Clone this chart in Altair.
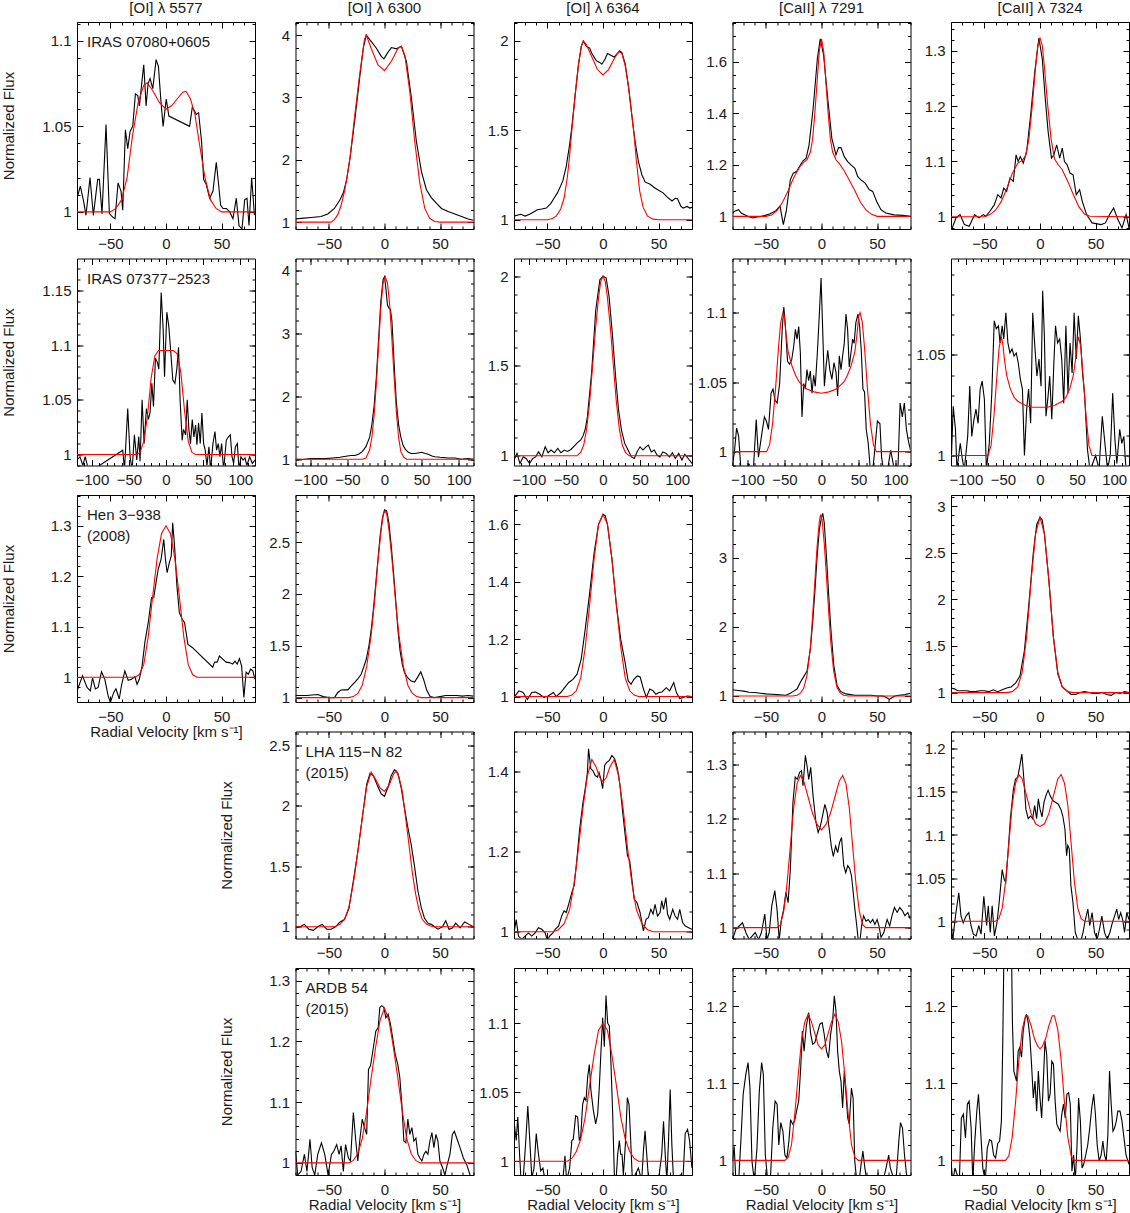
import math
import altair as alt
import pandas as pd

FONT = "Liberation Sans"
TXT = "#1a1a1a"
RED = "#ff0000"
W, H = 178, 207
MAJ, MIN = 6, 3

COL_TITLES = ["[OI] λ 5577", "[OI] λ 6300", "[OI] λ 6364", "[CaII] λ 7291", "[CaII] λ 7324"]
YTITLE = "Normalized Flux"
XTITLE = "Radial Velocity [km s⁻¹]"

# ---------------- Row 1 : IRAS 07080+0605 ----------------
R1C1_OBS = [(-80, 1.008), (-77, 1.015), (-74, 1.006), (-71.9, 0.998), (-68.3, 1.020), (-65.3, 0.998), (-61.4, 1.019),
            (-59.9, 1.019), (-57.5, 0.999), (-53.9, 1.051), (-50.9, 0.999), (-47.9, 0.997), (-45.8, 0.996), (-43.1, 1.017),
            (-40.4, 1.012), (-38.9, 1.001), (-36.5, 1.048), (-34.4, 1.037), (-32.3, 1.047), (-29.9, 1.050), (-27.5, 1.069),
            (-25.4, 1.068), (-23.9, 1.062), (-21.5, 1.077), (-20, 1.086), (-17.9, 1.062), (-16.1, 1.075), (-14.3, 1.078),
            (-11.9, 1.072), (-8.9, 1.089), (-6.8, 1.085), (-4.7, 1.066), (-2.6, 1.050), (0.2, 1.066), (2.6, 1.056),
            (21.2, 1.050), (23.6, 1.061), (25.7, 1.059), (27.2, 1.057), (29.3, 1.058), (32, 1.041), (33.8, 1.019),
            (36.2, 1.016), (39.2, 1.008), (42.2, 1.012), (45.2, 1.029), (47.3, 1.016), (49.1, 1.004), (51.2, 1.002),
            (54.2, 1.002), (57.2, 1.000), (60.2, 0.996), (63.2, 1.008), (65.6, 0.992), (68.3, 0.990), (70.7, 1.007),
            (72.8, 1.008), (74.6, 0.992), (77, 1.020), (79.5, 0.998)]
R1C1_FIT = [(-80, 1.0), (-50, 1.0), (-45, 1.002), (-40, 1.007), (-35, 1.02), (-30, 1.045), (-25, 1.064), (-20, 1.074),
            (-17, 1.0755), (-12, 1.071), (-6, 1.064), (0, 1.06), (5, 1.062), (10, 1.066), (15, 1.07), (18, 1.0705),
            (22, 1.066), (26, 1.057), (30, 1.04), (35, 1.02), (40, 1.007), (45, 1.002), (50, 1.0), (80, 1.0)]

R1C2_OBS = [(-80, 1.053), (-75, 1.06), (-66, 1.075), (-57, 1.09), (-51, 1.13), (-45, 1.22), (-40, 1.36), (-37, 1.47),
            (-34, 1.68), (-31, 2.03), (-28, 2.45), (-25, 2.9), (-22, 3.36), (-19, 3.8), (-16.4, 4.0), (-12, 3.9),
            (-7.3, 3.79), (-2.9, 3.66), (-0.5, 3.62), (2.6, 3.71), (6.2, 3.8), (10.7, 3.78), (15.2, 3.82), (19.7, 3.58),
            (24.2, 2.99), (28.7, 2.29), (33.2, 1.81), (37.7, 1.52), (42.2, 1.39), (46.8, 1.3), (51.2, 1.22),
            (57.2, 1.17), (63.2, 1.13), (69.2, 1.09), (75.2, 1.05), (80, 1.03)]
R1C2_FIT = [(-80, 1.0), (-48, 1.0), (-45, 1.04), (-42, 1.12), (-39, 1.27), (-36, 1.49), (-33.5, 1.75), (-31, 2.03),
            (-27, 2.67), (-22.4, 3.36), (-18, 3.93), (-16.4, 4.0), (-12, 3.79), (-5.9, 3.52), (0, 3.43), (6.2, 3.58),
            (12.2, 3.79), (15.2, 3.82), (18.2, 3.68), (22.7, 3.1), (27.2, 2.29), (31.7, 1.63), (36.2, 1.22),
            (40.7, 1.06), (45, 1.01), (50, 1.0), (80, 1.0)]

R1C3_OBS = [(-80, 1.02), (-74, 1.03), (-70, 1.02), (-66, 1.03), (-62, 1.045), (-59, 1.056), (-55, 1.06), (-51, 1.065),
            (-47, 1.09), (-44, 1.12), (-41, 1.15), (-38, 1.19), (-36, 1.22), (-33, 1.3), (-30, 1.42), (-28, 1.52),
            (-25, 1.7), (-22, 1.87), (-19.5, 1.97), (-17.7, 2.0), (-15, 1.97), (-12, 1.96), (-10, 1.93), (-6, 1.89),
            (-3, 1.88), (-1, 1.87), (2, 1.9), (4, 1.93), (7, 1.92), (10, 1.91), (13, 1.93), (15, 1.945), (17, 1.935),
            (20, 1.87), (23, 1.74), (26, 1.58), (29, 1.43), (32, 1.32), (35, 1.25), (38, 1.21), (42, 1.2), (46, 1.18),
            (50, 1.165), (54, 1.15), (57, 1.13), (62, 1.105), (65, 1.12), (67, 1.117), (70, 1.075), (72, 1.065),
            (75.6, 1.074), (78, 1.065), (80, 1.069)]
R1C3_FIT = [(-80, 1.0), (-50, 1.0), (-46, 1.005), (-42, 1.02), (-38, 1.06), (-35, 1.12), (-32, 1.24), (-30, 1.36),
            (-28, 1.5), (-25, 1.7), (-22, 1.87), (-19.5, 1.97), (-17.7, 2.0), (-15, 1.98), (-10, 1.91), (-5, 1.84),
            (0, 1.81), (5, 1.84), (10, 1.9), (13, 1.93), (15, 1.94), (17, 1.93), (20, 1.86), (23, 1.74), (26, 1.58),
            (28, 1.47), (30, 1.33), (33, 1.16), (36, 1.07), (40, 1.02), (45, 1.003), (50, 1.0), (80, 1.0)]

R1C4_OBS = [(-80, 1.013), (-78, 1.02), (-74.6, 1.026), (-72, 1.012), (-69, 1.006), (-66, 1.0), (-61.6, 0.994),
            (-58, 0.998), (-54, 1.0), (-50, 1.005), (-46.6, 1.009), (-41, 1.022), (-37.3, 1.04), (-34.3, 0.968),
            (-31.7, 1.02), (-28, 1.142), (-25.4, 1.168), (-22.4, 1.174), (-19.8, 1.194), (-16.8, 1.215),
            (-13.8, 1.226), (-11.2, 1.277), (-7.5, 1.42), (-3.7, 1.613), (-1.1, 1.69), (1.9, 1.626), (5.6, 1.458),
            (9.3, 1.303), (13, 1.239), (15.3, 1.267), (17.5, 1.267), (20.5, 1.232), (23.5, 1.213), (26.5, 1.2),
            (30, 1.187), (32.5, 1.155), (35.4, 1.142), (39.2, 1.129), (43, 1.103), (46, 1.097), (49.6, 1.058),
            (53.4, 1.026), (57.8, 1.013), (65.3, 1.006), (72.8, 1.004), (80, 1.0)]
R1C4_FIT = [(-80, 1.0), (-50, 1.0), (-45, 1.005), (-40, 1.022), (-35, 1.055), (-30, 1.1), (-25, 1.15), (-20, 1.19),
            (-16, 1.21), (-13, 1.22), (-10, 1.25), (-8, 1.3), (-6, 1.4), (-4, 1.52), (-2, 1.64), (0, 1.69), (2, 1.64),
            (4, 1.52), (6, 1.4), (8, 1.3), (10, 1.25), (13, 1.22), (16, 1.205), (20, 1.18), (25, 1.14), (30, 1.1),
            (35, 1.055), (40, 1.025), (45, 1.008), (50, 1.0), (80, 1.0)]

R1C5_OBS = [(-80, 0.974), (-75.5, 0.998), (-71.8, 1.004), (-68, 0.986), (-63.6, 0.983), (-58.8, 1.004), (-55, 0.998),
            (-51, 1.004), (-48.7, 1.001), (-45, 1.01), (-41, 1.022), (-38, 1.04), (-35, 1.034), (-32.6, 1.052),
            (-30, 1.046), (-27, 1.07), (-24, 1.064), (-21.5, 1.112), (-19.6, 1.1), (-17.7, 1.109), (-15, 1.097),
            (-12, 1.118), (-8.4, 1.184), (-4.7, 1.262), (-1, 1.323), (2, 1.286), (4.7, 1.214), (7.3, 1.154),
            (10.3, 1.106), (12.5, 1.112), (15, 1.13), (17.7, 1.106), (20, 1.124), (22, 1.1), (24.4, 1.094),
            (27, 1.079), (29.7, 1.076), (32.6, 1.04), (35.6, 1.049), (38, 1.028), (41.9, 1.004), (46.8, 0.989),
            (55, 0.986), (58.8, 0.989), (62.5, 1.004), (66.2, 1.016), (70, 0.995), (73.7, 0.98), (77.4, 1.004),
            (80, 0.98)]
R1C5_FIT = [(-80, 1.0), (-50, 1.0), (-45, 1.004), (-40, 1.012), (-35, 1.027), (-30, 1.05), (-25, 1.078), (-20, 1.097),
            (-16, 1.102), (-13, 1.11), (-10, 1.14), (-7, 1.2), (-4, 1.27), (-2, 1.31), (0, 1.323), (2, 1.31),
            (4, 1.27), (7, 1.2), (10, 1.14), (13, 1.105), (16, 1.095), (20, 1.085), (25, 1.064), (30, 1.04),
            (35, 1.018), (40, 1.005), (45, 1.001), (80, 1.0)]

# ---------------- Row 2 : IRAS 07377-2523 ----------------
R2C1_OBS = [(-120, 0.995), (-116, 0.998), (-112, 0.99), (-109, 0.998), (-105.6, 0.989), (-102.5, 0.986), (-92, 0.989),
            (-58.3, 1.004), (-56, 0.986), (-51.6, 1.042), (-48.4, 0.998), (-45.7, 0.986), (-42.6, 1.018),
            (-39.4, 0.995), (-36.7, 1.0165), (-35, 0.994), (-32.2, 1.05), (-29.5, 1.01), (-26.4, 1.042),
            (-23.6, 1.032), (-21.4, 1.039), (-19.1, 1.065), (-16.9, 1.044), (-14.2, 1.088), (-11.5, 1.084),
            (-9.7, 1.078), (-6.5, 1.148), (-3.8, 1.114), (-2, 1.071), (1.1, 1.13), (3.8, 1.117), (6.5, 1.093),
            (9.2, 1.068), (12, 1.065), (14.6, 1.078), (16.9, 1.098), (19, 1.05), (21.8, 1.013), (23.6, 1.023),
            (26.4, 1.018), (28.6, 1.05), (30.9, 1.023), (33, 1.01), (35.4, 1.032), (37.6, 1.016), (39.9, 1.027),
            (41.7, 1.009), (43.9, 1.029), (46.2, 1.01), (48.4, 1.038), (50.7, 1.01), (52.9, 1.004), (55.2, 0.99),
            (57.9, 1.007), (60.1, 0.986), (63.3, 1.01), (66, 1.021), (68.2, 1.004), (70.5, 1.01), (72.7, 0.998),
            (75, 1.01), (77.7, 0.986), (81.3, 1.013), (84, 1.016), (86.7, 1.018), (89, 0.998), (91.2, 0.992),
            (93.5, 1.007), (96.2, 1.01), (98.4, 0.986), (101, 0.998), (103.8, 0.995), (106.5, 0.997), (109, 0.99),
            (112.8, 0.998), (116.4, 0.992), (120, 0.995)]
R2C1_FIT = [(-120, 1.0), (-40, 1.0), (-35, 1.002), (-30, 1.012), (-25, 1.035), (-20, 1.07), (-15, 1.09), (-10, 1.095),
            (0, 1.095), (10, 1.095), (15, 1.092), (20, 1.075), (25, 1.04), (30, 1.012), (35, 1.002), (40, 1.0),
            (120, 1.0)]

R2C2_OBS = [(-120, 1.0), (-110, 0.995), (-100, 1.01), (-90, 1.01), (-80, 1.01), (-70, 1.02), (-60, 1.03), (-50, 1.05),
            (-45, 1.06), (-40, 1.06), (-35, 1.08), (-30, 1.12), (-25, 1.2), (-20, 1.35), (-17, 1.55), (-14, 1.85),
            (-11, 2.3), (-8, 2.9), (-5, 3.5), (-2, 3.85), (0, 3.9), (2, 3.7), (4, 3.45), (6, 3.4), (8, 3.38),
            (10, 3.2), (12, 2.75), (14, 2.3), (16, 1.9), (19, 1.55), (22, 1.35), (25, 1.22), (28, 1.16), (32, 1.11),
            (36, 1.09), (41, 1.09), (45, 1.1), (50, 1.11), (55, 1.09), (59, 1.08), (64, 1.05), (68, 1.04), (75, 1.03),
            (86, 1.02), (95, 1.02), (104, 1.0), (112, 1.01), (120, 1.0)]
R2C2_FIT = [(-120, 1.0), (-30, 1.0), (-25, 1.02), (-20, 1.15), (-17, 1.35), (-14, 1.7), (-11, 2.2), (-8, 2.8),
            (-5, 3.4), (-2, 3.8), (1, 3.9), (4, 3.8), (7, 3.45), (10, 2.9), (13, 2.3), (16, 1.75), (19, 1.35),
            (22, 1.12), (26, 1.03), (30, 1.0), (120, 1.0)]

R2C3_OBS = [(-120, 0.976), (-116, 1.013), (-112, 0.957), (-107.5, 0.994), (-103.6, 0.985), (-99, 0.957),
            (-94.7, 0.985), (-90.8, 0.994), (-86.9, 1.022), (-82.4, 0.994), (-77.9, 1.05), (-74, 1.017), (-70, 1.032),
            (-65.6, 1.017), (-61, 1.041), (-56.7, 1.017), (-52.2, 1.032), (-47.8, 1.024), (-43.3, 1.035),
            (-38.8, 1.054), (-34.4, 1.073), (-29.9, 1.088), (-26.5, 1.115), (-23.7, 1.153), (-21, 1.218),
            (-15.4, 1.46), (-9.8, 1.81), (-4.2, 1.98), (0, 2.0), (4.2, 1.99), (8.1, 1.89), (12.6, 1.68), (17, 1.44),
            (21, 1.255), (24.9, 1.143), (29.3, 1.069), (33.8, 1.032), (38.3, 0.994), (42.2, 0.985), (46, 1.022),
            (50, 1.05), (53.9, 1.032), (57.3, 1.047), (61.2, 1.06), (65.1, 1.022), (69, 1.032), (72.9, 1.004),
            (76.8, 0.994), (80.7, 1.022), (85.2, 1.013), (89.6, 0.994), (93.6, 1.017), (97.5, 0.985), (102, 1.013),
            (106.4, 0.976), (110.3, 1.009), (114.8, 0.985), (120, 0.957)]
R2C3_FIT = [(-120, 1.0), (-35, 1.0), (-30, 1.02), (-26, 1.06), (-22, 1.15), (-18, 1.3), (-14, 1.5), (-10, 1.71),
            (-6, 1.88), (-3, 1.97), (0, 2.0), (3, 1.97), (6, 1.88), (10, 1.71), (14, 1.5), (18, 1.3), (22, 1.15),
            (26, 1.06), (30, 1.02), (35, 1.0), (120, 1.0)]

R2C4_OBS = [(-120, 0.99), (-117.2, 1.001), (-114.5, 1.017), (-111.7, 1.011), (-109, 0.99), (-103, 0.986),
            (-97.8, 0.991), (-92, 0.986), (-88, 1.023), (-85, 0.996), (-81, 1.011), (-77, 1.025), (-74.3, 1.022),
            (-71.5, 1.016), (-68, 1.042), (-65.4, 1.045), (-62.6, 1.037), (-59.8, 1.035), (-56.4, 1.049), (-53, 1.088),
            (-50.8, 1.104), (-48.6, 1.09), (-45.8, 1.065), (-43, 1.063), (-40.2, 1.066), (-37.4, 1.076),
            (-35.2, 1.088), (-33, 1.081), (-30.7, 1.09), (-28.5, 1.071), (-26.3, 1.025), (-24, 1.049), (-21.8, 1.045),
            (-19.6, 1.059), (-17.3, 1.051), (-15.1, 1.058), (-12.8, 1.042), (-10.6, 1.055), (-8.4, 1.047),
            (-5.6, 1.071), (-2.8, 1.1), (-0.6, 1.125), (1.7, 1.086), (3.9, 1.047), (6.1, 1.061), (8.4, 1.073),
            (11.2, 1.059), (14, 1.052), (16.8, 1.064), (19.6, 1.057), (21.8, 1.04), (24, 1.069), (26.3, 1.059),
            (28.5, 1.069), (30.7, 1.078), (33, 1.099), (35.2, 1.088), (37.4, 1.061), (39.7, 1.071), (42, 1.081),
            (44, 1.078), (46.4, 1.093), (49.2, 1.099), (51.4, 1.09), (53.6, 1.073), (55.9, 1.045), (58, 1.043),
            (60.3, 1.016), (63, 1.006), (66, 0.986), (70, 0.991), (72.6, 1.006), (75.4, 1.022), (78.8, 1.02),
            (81, 0.996), (83.8, 0.986), (89.4, 0.988), (93.3, 1.001), (97.8, 0.988), (103, 0.986), (106, 1.035),
            (109, 1.025), (111.7, 1.035), (114.5, 1.016), (117, 1.008), (120, 1.001)]
R2C4_FIT = [(-120, 1.0), (-74, 1.0), (-70, 1.005), (-66, 1.02), (-62, 1.045), (-58, 1.075), (-55, 1.093), (-52, 1.1),
            (-50, 1.097), (-48, 1.085), (-45, 1.072), (-40, 1.062), (-35, 1.055), (-30, 1.05), (-20, 1.045),
            (-10, 1.043), (0, 1.042), (10, 1.043), (20, 1.045), (30, 1.05), (35, 1.055), (40, 1.062), (45, 1.072),
            (48, 1.085), (50, 1.097), (52, 1.1), (55, 1.093), (58, 1.075), (62, 1.045), (66, 1.02), (70, 1.005),
            (74, 1.0), (120, 1.0)]

R2C5_OBS = [(-120, 0.993), (-117, 1.0245), (-114, 1.013), (-112, 0.993), (-107.5, 1.006), (-104.7, 0.998),
            (-102, 0.993), (-97.5, 1.0095), (-94.7, 1.0345), (-92, 1.0095), (-89, 1.018), (-86.3, 1.023),
            (-83.5, 1.016), (-80.7, 1.033), (-78, 1.037), (-75, 1.028), (-72.3, 0.993), (-68.4, 1.006), (-65, 1.031),
            (-61.7, 1.067), (-58.9, 1.063), (-56, 1.0645), (-53.9, 1.056), (-51, 1.0645), (-48.9, 1.058),
            (-46, 1.071), (-43.3, 1.056), (-40.5, 1.051), (-37.7, 1.053), (-35, 1.0495), (-32, 1.051), (-29.3, 1.046),
            (-26.5, 1.038), (-23.7, 1.033), (-21, 1.0), (-18, 1.023), (-15.4, 1.033), (-12.6, 1.016), (-9.8, 1.071),
            (-7, 1.0545), (-4.2, 1.0395), (-1.4, 1.048), (1.4, 1.0345), (3.6, 1.082), (5.9, 1.0595), (8.1, 1.0195),
            (10.9, 1.0295), (13.1, 1.0395), (15.9, 1.018), (18.7, 1.046), (20.9, 1.0645), (23.7, 1.056),
            (26.5, 1.058), (29.3, 1.048), (32, 1.026), (34.9, 1.0645), (37.7, 1.031), (40.5, 1.056), (43.3, 1.041),
            (46, 1.071), (48.9, 1.048), (51.7, 1.0695), (54.5, 1.058), (57.3, 1.041), (60, 1.031), (64, 1.003),
            (67.3, 0.993), (71, 0.996), (75, 1.0), (79.6, 0.993), (84, 1.0195), (87, 1.008), (91, 0.993), (94.7, 1.0),
            (98, 1.031), (101, 1.008), (103.6, 0.996), (107.5, 1.013), (110.3, 1.006), (113, 1.0095), (116, 0.993),
            (120, 0.995)]
R2C5_FIT = [(-120, 1.0), (-70, 1.0), (-66, 1.005), (-62, 1.02), (-58, 1.04), (-55, 1.054), (-52, 1.059), (-50, 1.055),
            (-48, 1.048), (-45, 1.04), (-40, 1.033), (-35, 1.029), (-30, 1.027), (-20, 1.025), (-10, 1.024),
            (0, 1.024), (10, 1.024), (20, 1.025), (30, 1.027), (35, 1.029), (40, 1.033), (45, 1.04), (48, 1.048),
            (50, 1.055), (52, 1.059), (55, 1.054), (58, 1.04), (62, 1.02), (66, 1.005), (70, 1.0), (120, 1.0)]

# ---------------- Row 3 : Hen 3-938 (2008) ----------------
R3C1_OBS = [(-80, 0.973), (-75, 1.003), (-71, 0.98), (-68, 0.973), (-66, 0.999), (-63.5, 0.977), (-61, 0.98),
            (-58, 1.011), (-55, 0.996), (-52, 0.963), (-50, 0.95), (-47, 0.97), (-45, 0.977), (-42, 0.957),
            (-40, 0.984), (-37, 1.0125), (-34, 0.994), (-31, 0.996), (-28, 1.001), (-26, 0.986), (-24, 0.996),
            (-21.5, 1.022), (-19, 1.069), (-16, 1.108), (-13, 1.158), (-11, 1.158), (-9, 1.187), (-7, 1.214),
            (-4.4, 1.234), (-2, 1.273), (-0.5, 1.234), (1, 1.207), (3, 1.227), (4.7, 1.24), (6, 1.306), (7.7, 1.26),
            (9.8, 1.181), (12, 1.128), (14.6, 1.115), (16.7, 1.108), (19.7, 1.065), (23.6, 1.059), (42, 1.02),
            (43.7, 1.03), (46, 1.03), (48, 1.042), (51, 1.036), (54, 1.03), (57, 1.029), (60, 1.026), (62, 1.032),
            (64, 1.026), (66, 1.037), (68, 1.022), (70, 0.96), (72, 1.01), (74, 1.006), (76, 1.016), (78, 1.013),
            (80, 0.996)]
R3C1_FIT = [(-80, 1.0), (-28, 1.0), (-24, 1.005), (-20, 1.025), (-16, 1.08), (-12, 1.16), (-8, 1.235), (-4, 1.285),
            (0, 1.3), (4, 1.285), (8, 1.235), (12, 1.16), (16, 1.08), (20, 1.025), (24, 1.005), (28, 1.0), (80, 1.0)]

R3C2_OBS = [(-80, 1.02), (-75, 1.02), (-70, 1.02), (-65, 1.025), (-60, 1.03), (-55, 1.01), (-50, 1.0), (-45, 1.0),
            (-42, 1.05), (-39, 1.074), (-36, 1.075), (-33, 1.075), (-30, 1.11), (-27, 1.145), (-24, 1.18),
            (-21, 1.225), (-18.5, 1.3), (-16.4, 1.37), (-14, 1.5), (-12, 1.65), (-10, 1.85), (-8, 2.08), (-6, 2.32),
            (-4, 2.55), (-2, 2.72), (0, 2.81), (2, 2.8), (4, 2.68), (6, 2.47), (8, 2.22), (10, 1.95), (12, 1.66),
            (14, 1.45), (16, 1.32), (18, 1.24), (21, 1.19), (24, 1.16), (27, 1.15), (30, 1.2), (32.6, 1.25),
            (35, 1.18), (38, 1.07), (41, 1.01), (45, 1.0), (50, 1.01), (55, 1.02), (60, 1.02), (65, 1.02),
            (70, 1.015), (75, 1.02), (80, 1.015)]
R3C2_FIT = [(-80, 1.0), (-32, 1.0), (-28, 1.01), (-24, 1.04), (-20, 1.12), (-16, 1.3), (-12, 1.6), (-9, 1.92),
            (-6, 2.3), (-3, 2.62), (-1, 2.77), (0.5, 2.8), (2, 2.77), (4, 2.62), (7, 2.3), (10, 1.92), (13, 1.6),
            (17, 1.3), (21, 1.12), (25, 1.04), (29, 1.01), (33, 1.0), (80, 1.0)]

R3C3_OBS = [(-80, 0.997), (-75.6, 1.02), (-71.8, 1.014), (-68, 0.99), (-64, 1.014), (-60.6, 1.016), (-56.9, 1.008),
            (-53, 0.997), (-49.4, 1.002), (-44.6, 1.014), (-42, 1.0), (-38, 1.014), (-34.5, 1.031), (-30.8, 1.049),
            (-27, 1.06), (-23.3, 1.078), (-19.6, 1.13), (-16, 1.234), (-12, 1.36), (-8, 1.5), (-4, 1.6), (0, 1.635),
            (2, 1.63), (4, 1.6), (8, 1.48), (12, 1.32), (15.9, 1.2), (19.6, 1.124), (22.6, 1.055), (25.2, 1.043),
            (27.8, 1.06), (30.8, 1.072), (33.4, 1.068), (36.4, 1.026), (39, 0.997), (42, 1.026), (45, 1.02),
            (47.6, 1.008), (50.2, 1.014), (53, 1.016), (56.9, 1.031), (59.9, 1.02), (63.6, 1.049), (66, 1.014),
            (69, 0.993), (72, 0.997), (75.6, 1.002), (80, 1.0)]
R3C3_FIT = [(-80, 1.0), (-32, 1.0), (-28, 1.005), (-24, 1.02), (-20, 1.065), (-16, 1.17), (-12, 1.32), (-8, 1.48),
            (-4, 1.6), (0, 1.635), (4, 1.6), (8, 1.48), (12, 1.32), (16, 1.17), (20, 1.065), (24, 1.02), (28, 1.005),
            (32, 1.0), (80, 1.0)]

R3C4_OBS = [(-80, 1.09), (-75, 1.08), (-70, 1.07), (-65, 1.055), (-60, 1.05), (-55, 1.04), (-50, 1.03), (-45, 1.025),
            (-40, 1.02), (-35, 1.015), (-32, 1.01), (-28, 1.04), (-25, 1.07), (-22, 1.1), (-19, 1.2), (-16, 1.28),
            (-13, 1.36), (-10, 1.68), (-8, 2.05), (-6, 2.5), (-4, 3.0), (-2, 3.4), (0, 3.58), (1.1, 3.64),
            (2.5, 3.5), (4.5, 3.0), (6.5, 2.45), (8.5, 1.95), (11, 1.45), (14, 1.15), (17, 1.07), (19, 1.05),
            (22, 1.03), (26, 1.02), (30, 1.01), (35, 1.01), (40, 1.01), (45, 1.01), (50, 1.0), (55, 1.0),
            (58, 0.98), (61, 0.95), (63, 0.97), (66, 1.0), (70, 1.01), (75, 1.02), (80, 1.04)]
R3C4_FIT = [(-80, 1.0), (-26, 1.0), (-22, 1.01), (-19, 1.04), (-16, 1.11), (-13, 1.3), (-10, 1.7), (-8, 2.15),
            (-6, 2.65), (-4, 3.15), (-2, 3.52), (-0.8, 3.62), (0.5, 3.55), (2.5, 3.2), (4.5, 2.72), (6.5, 2.2),
            (8.5, 1.75), (11, 1.35), (14, 1.12), (17, 1.04), (20, 1.01), (24, 1.0), (80, 1.0)]

R3C5_OBS = [(-80, 1.05), (-77, 1.04), (-74, 1.02), (-70, 1.02), (-66, 1.02), (-62, 1.01), (-58, 1.01), (-54, 1.02),
            (-50, 1.02), (-46, 1.01), (-42, 1.03), (-38, 1.01), (-34, 1.03), (-30, 1.05), (-26, 1.06), (-22, 1.1),
            (-18, 1.18), (-14, 1.45), (-10, 1.95), (-6, 2.5), (-3, 2.8), (0, 2.88), (2, 2.85), (4, 2.7), (8, 2.2),
            (12, 1.6), (16, 1.2), (20, 1.06), (24, 1.02), (28, 0.98), (32, 0.98), (36, 1.0), (40, 1.01), (44, 1.0),
            (48, 0.99), (52, 0.99), (56, 1.0), (60, 0.98), (64, 0.97), (68, 1.0), (72, 0.99), (76, 1.01), (80, 1.0)]
R3C5_FIT = [(-80, 1.0), (-30, 1.0), (-25, 1.01), (-20, 1.06), (-16, 1.22), (-12, 1.6), (-8, 2.2), (-4, 2.7),
            (0, 2.88), (4, 2.7), (8, 2.2), (12, 1.6), (16, 1.22), (20, 1.06), (25, 1.01), (30, 1.0), (80, 1.0)]

# ---------------- Row 4 : LHA 115-N 82 (2015) ----------------
R4C2_OBS = [(-80, 0.99), (-76, 1.0), (-72, 1.02), (-68, 0.98), (-64, 0.97), (-60, 1.0), (-56, 1.02), (-52, 0.98),
            (-48, 0.98), (-44, 1.0), (-40, 1.04), (-36, 1.06), (-32, 1.15), (-28, 1.38), (-24, 1.62), (-20, 1.9),
            (-16, 2.18), (-13, 2.27), (-10, 2.25), (-6, 2.16), (-3, 2.1), (0, 2.08), (3, 2.15), (6, 2.25), (9, 2.3),
            (12, 2.27), (15, 2.15), (18, 1.98), (21, 1.82), (24, 1.68), (27, 1.5), (30, 1.3), (33, 1.16), (36, 1.07),
            (39, 1.03), (42, 1.02), (45, 1.0), (48, 0.98), (52, 1.0), (55, 1.05), (58, 0.98), (61, 0.99), (64, 1.03),
            (68, 0.99), (72, 1.04), (76, 1.02), (80, 1.0)]
R4C2_FIT = [(-80, 1.0), (-48, 1.0), (-44, 1.005), (-40, 1.02), (-36, 1.06), (-32, 1.16), (-28, 1.36), (-24, 1.62),
            (-20, 1.9), (-16, 2.16), (-12, 2.28), (-8, 2.22), (-4, 2.15), (0, 2.12), (4, 2.17), (8, 2.26),
            (10.5, 2.29), (13, 2.24), (16, 2.12), (19, 1.9), (22, 1.68), (25, 1.45), (28, 1.27), (31, 1.14),
            (34, 1.06), (38, 1.02), (42, 1.005), (46, 1.0), (80, 1.0)]

R4C3_OBS = [(-80, 0.997), (-78, 1.03), (-76, 0.989), (-73, 0.981), (-70, 0.989), (-67, 0.997), (-64, 0.989),
            (-61, 0.997), (-58, 1.01), (-55, 1.006), (-52, 0.997), (-50, 0.977), (-48, 0.989), (-45, 0.997),
            (-43, 1.006), (-40, 1.014), (-37, 1.04), (-35, 1.052), (-33, 1.048), (-30, 1.077), (-28, 1.098),
            (-26, 1.115), (-24, 1.165), (-21, 1.256), (-18, 1.323), (-16, 1.357), (-14, 1.398), (-13, 1.457),
            (-11, 1.407), (-9, 1.402), (-7, 1.39), (-5, 1.386), (-3.6, 1.398), (-2, 1.382), (-0.3, 1.357),
            (1.5, 1.415), (3.3, 1.423), (5.7, 1.428), (8, 1.44), (10.5, 1.432), (13, 1.407), (15.3, 1.365),
            (17.7, 1.298), (20, 1.24), (22, 1.19), (24, 1.177), (26, 1.131), (28, 1.081), (30.5, 1.073),
            (33.3, 1.048), (36.3, 1.002), (38.7, 1.031), (40.8, 1.035), (43, 1.056), (45, 1.044), (46.8, 1.068),
            (49, 1.039), (51.3, 1.048), (52.8, 1.077), (54.4, 1.056), (56.5, 1.085), (58, 1.044), (60, 1.031),
            (62.7, 1.056), (64.8, 1.039), (67, 1.031), (69, 1.056), (71.5, 1.023), (74, 1.014), (77, 1.01),
            (80, 1.006)]
R4C3_FIT = [(-80, 1.0), (-45, 1.0), (-40, 1.005), (-35, 1.02), (-30, 1.055), (-26, 1.12), (-22, 1.21), (-18, 1.31),
            (-14, 1.39), (-10, 1.43), (-6, 1.41), (-3, 1.385), (0, 1.375), (3, 1.385), (6, 1.41), (10, 1.43),
            (14, 1.39), (18, 1.31), (22, 1.21), (26, 1.12), (30, 1.055), (35, 1.02), (40, 1.005), (45, 1.0),
            (80, 1.0)]

R4C4_OBS = [(-80, 0.978), (-77, 0.997), (-74, 1.003), (-71, 1.009), (-68, 0.991), (-65, 0.978), (-59.6, 0.991),
            (-56.5, 0.978), (-54, 0.991), (-51, 1.025), (-49, 0.978), (-47, 0.991), (-44.7, 1.04), (-42, 1.068),
            (-40, 1.034), (-38, 0.978), (-36, 1.015), (-34, 1.034), (-32, 1.065), (-30, 1.046), (-28, 1.108),
            (-25.7, 1.23), (-23.6, 1.277), (-21.8, 1.273), (-19.6, 1.286), (-18, 1.289), (-16.6, 1.261),
            (-14.5, 1.317), (-13, 1.298), (-11.5, 1.273), (-9.7, 1.295), (-7.6, 1.243), (-5, 1.194), (-3, 1.175),
            (-1, 1.187), (1, 1.206), (3, 1.227), (5, 1.212), (7, 1.181), (8.8, 1.15), (10.6, 1.131), (12.7, 1.15),
            (14.5, 1.138), (16.3, 1.157), (18, 1.166), (20, 1.114), (21.8, 1.101), (23.6, 1.114), (25.4, 1.108),
            (27, 1.095), (28.7, 1.061), (30, 1.034), (31.7, 1.003), (33, 0.978), (34.7, 0.978), (36, 1.003),
            (37.8, 1.022), (40, 1.012), (42, 1.015), (44, 1.009), (46, 1.015), (48, 1.006), (50, 1.015),
            (51.7, 1.003), (53.5, 0.982), (56, 0.991), (59, 1.015), (61.3, 1.003), (63.4, 1.022), (65.6, 1.037),
            (68, 1.028), (70.4, 1.037), (72.8, 1.031), (75, 1.022), (77.6, 1.028), (80, 1.015)]
R4C4_FIT = [(-80, 1.0), (-40, 1.0), (-37, 1.005), (-34, 1.03), (-31, 1.08), (-28, 1.15), (-25, 1.22), (-22, 1.265),
            (-19, 1.28), (-16, 1.27), (-12, 1.24), (-8, 1.21), (-4, 1.19), (0, 1.18), (4, 1.19), (8, 1.21),
            (12, 1.24), (16, 1.27), (19, 1.28), (22, 1.265), (25, 1.22), (28, 1.15), (31, 1.08), (34, 1.03),
            (37, 1.005), (40, 1.0), (80, 1.0)]

R4C5_OBS = [(-80, 1.002), (-78.5, 0.977), (-76, 1.006), (-73, 1.033), (-71, 1.006), (-69, 0.998), (-66.5, 1.006),
            (-64, 1.01), (-62, 0.995), (-60, 0.985), (-57.4, 0.983), (-55, 0.995), (-53, 0.985), (-50.5, 1.029),
            (-48, 0.995), (-46.5, 1.018), (-44.7, 0.987), (-43, 1.018), (-41, 0.983), (-38.7, 0.998), (-37, 1.018),
            (-35.6, 1.037), (-34, 1.06), (-32.3, 1.049), (-30.8, 1.045), (-28.7, 1.08), (-26.6, 1.119),
            (-24, 1.152), (-22, 1.165), (-20, 1.167), (-18, 1.181), (-16.3, 1.194), (-14.5, 1.165), (-12.7, 1.13),
            (-10.6, 1.119), (-8.5, 1.122), (-6.6, 1.119), (-4.8, 1.134), (-3, 1.119), (-1.5, 1.142), (0, 1.13),
            (1.8, 1.121), (3.6, 1.138), (5.4, 1.146), (7.3, 1.152), (9, 1.146), (11.5, 1.14), (13.9, 1.138),
            (16.3, 1.136), (18.7, 1.13), (20.5, 1.122), (22.4, 1.107), (23.9, 1.076), (25, 1.088), (26.3, 1.084),
            (27.8, 1.041), (29.6, 1.022), (31.7, 0.987), (33.8, 0.979), (36.3, 0.975), (38.7, 0.987), (40.8, 1.002),
            (43, 1.014), (44.7, 0.995), (46.8, 1.01), (49, 0.987), (51.4, 0.979), (53.5, 0.991), (55.6, 1.006),
            (58, 0.987), (60.4, 0.979), (62.8, 0.987), (65, 0.998), (67, 1.006), (69, 1.014), (70.7, 1.002),
            (72.5, 1.01), (74.3, 1.002), (76, 0.987), (78, 1.01), (80, 1.002)]
R4C5_FIT = [(-80, 1.0), (-40, 1.0), (-37, 1.003), (-34, 1.015), (-31, 1.045), (-28, 1.09), (-25, 1.135), (-22, 1.16),
            (-19, 1.17), (-16, 1.165), (-12, 1.145), (-8, 1.125), (-4, 1.113), (0, 1.11), (4, 1.113), (8, 1.125),
            (12, 1.145), (16, 1.165), (19, 1.17), (22, 1.16), (25, 1.135), (28, 1.09), (31, 1.045), (34, 1.015),
            (37, 1.003), (40, 1.0), (80, 1.0)]

# ---------------- Row 5 : ARDB 54 (2015) ----------------
R5C2_OBS = [(-80, 1.019), (-78, 0.98), (-75, 0.986), (-72, 1.014), (-69.7, 0.986), (-67, 1.039), (-65, 0.992),
            (-62.7, 0.98), (-60, 1.014), (-56.7, 1.033), (-53.7, 1.014), (-50.7, 0.98), (-47.7, 1.014),
            (-45.6, 1.019), (-43, 1.03), (-40.8, 1.014), (-39, 1.028), (-37, 0.986), (-35, 1.03), (-32.4, 1.008),
            (-30.6, 1.003), (-28, 1.083), (-25.8, 1.036), (-24, 1.003), (-22, 1.041), (-20, 1.072), (-18, 1.058),
            (-16, 1.047), (-14.4, 1.154), (-12.6, 1.16), (-10, 1.19), (-7.8, 1.217), (-5.7, 1.223), (-4.2, 1.256),
            (-2.4, 1.259), (-0.6, 1.256), (1.2, 1.239), (3.3, 1.245), (5.4, 1.228), (7.8, 1.2), (9.6, 1.179),
            (12, 1.162), (13.8, 1.14), (15.6, 1.096), (17.4, 1.036), (19.2, 1.033), (21, 1.072), (22.8, 1.047),
            (24.6, 1.058), (26.4, 1.036), (28.2, 1.041), (30, 1.014), (31.8, 1.008), (33.6, 1.003), (35.4, 1.014),
            (37.2, 1.019), (39, 1.014), (40.8, 1.036), (42.6, 1.05), (44.4, 1.025), (46.2, 1.047), (48, 1.036),
            (49.8, 1.003), (52.2, 0.992), (54.3, 0.98), (56.4, 0.997), (58.8, 1.014), (61, 1.047), (62.8, 1.052),
            (64.9, 1.041), (67.9, 1.025), (70.9, 1.008), (73.9, 0.997), (76.9, 0.98), (80, 0.969)]
R5C2_FIT = [(-80, 1.0), (-32, 1.0), (-28, 1.004), (-24, 1.015), (-20, 1.04), (-16, 1.085), (-12, 1.14), (-8, 1.19),
            (-4, 1.235), (0, 1.255), (4, 1.235), (8, 1.19), (12, 1.14), (16, 1.085), (20, 1.04), (24, 1.015),
            (28, 1.004), (32, 1.0), (80, 1.0)]

R5C3_OBS = [(-80, 1.029), (-78, 1.015), (-76.6, 1.032), (-75, 1.005), (-73.6, 0.986), (-71.5, 0.99), (-69.4, 1.015),
            (-67.6, 1.04), (-65.8, 1.015), (-64, 0.988), (-62, 0.995), (-60, 1.02), (-58, 1.005), (-56, 0.993),
            (-54, 0.995), (-52.5, 0.988), (-50.7, 0.986), (-47.7, 0.988), (-44.7, 0.986), (-41.7, 0.988),
            (-38.7, 0.986), (-35.7, 0.99), (-34.2, 1.004), (-32.7, 0.986), (-30, 0.995), (-28, 1.015), (-26.7, 1.016),
            (-24.6, 1.033), (-22.8, 1.032), (-21.3, 1.015), (-20, 1.018), (-18.3, 1.041), (-16.8, 1.046),
            (-15.3, 1.044), (-13.8, 1.061), (-12.3, 1.07), (-10.8, 1.051), (-8.7, 1.037), (-6.6, 1.027),
            (-4.8, 1.034), (-3.3, 1.054), (-1.8, 1.08), (-0.3, 1.104), (1.2, 1.083), (2.7, 1.12), (4.2, 1.1),
            (5.7, 1.098), (7.2, 1.07), (8.7, 1.034), (10.2, 0.99), (11.7, 0.986), (13.2, 1.005), (14.7, 1.015),
            (15.9, 1.005), (17.1, 1.005), (18.3, 0.99), (20.1, 1.012), (21.9, 1.046), (23.4, 1.041), (24.9, 1.015),
            (26.4, 0.986), (28.8, 0.99), (31.8, 0.995), (34.8, 0.986), (36.3, 1.007), (37.8, 1.022), (39.3, 1.005),
            (40.8, 0.988), (43.8, 0.986), (46.8, 0.988), (49.8, 0.986), (52.8, 1.005), (54.4, 1.029), (55.9, 1.005),
            (57.4, 0.986), (58.9, 1.015), (60.4, 1.052), (61.9, 1.012), (63.4, 0.986), (66.4, 0.986), (69.4, 0.99),
            (71.8, 0.986), (73.9, 1.02), (76, 1.023), (77.8, 1.015), (80, 0.995)]
R5C3_FIT = [(-80, 1.0), (-32, 1.0), (-28, 1.002), (-24, 1.007), (-20, 1.016), (-16, 1.032), (-12, 1.055), (-8, 1.077),
            (-4, 1.095), (0, 1.1), (4, 1.095), (8, 1.077), (12, 1.055), (16, 1.032), (20, 1.016), (24, 1.007),
            (28, 1.002), (32, 1.0), (80, 1.0)]

R5C4_OBS = [(-80, 0.999), (-78.5, 1.018), (-77, 0.975), (-74.6, 0.97), (-72.5, 1.025), (-70.4, 1.086), (-68, 1.112),
            (-66, 1.127), (-64.3, 1.094), (-62.5, 0.999), (-60.4, 0.973), (-58, 1.016), (-55.9, 1.09), (-53.8, 1.127),
            (-52.3, 1.112), (-50.5, 1.007), (-48.3, 0.973), (-46, 0.973), (-43.8, 1.042), (-41.7, 1.077),
            (-39.9, 1.073), (-38.4, 1.02), (-36.6, 1.049), (-34.7, 1.038), (-32.9, 1.007), (-31.1, 1.003),
            (-29.3, 1.025), (-27.8, 1.053), (-26, 1.047), (-24.2, 1.051), (-22.4, 1.064), (-20.5, 1.077),
            (-18.7, 1.12), (-17.2, 1.168), (-15.7, 1.142), (-13.6, 1.175), (-11.5, 1.192), (-9.7, 1.164),
            (-7.9, 1.151), (-6, 1.153), (-3.9, 1.164), (-1.5, 1.177), (0.6, 1.179), (2.4, 1.164), (4.5, 1.142),
            (6.3, 1.133), (8.2, 1.164), (10, 1.181), (11.5, 1.214), (13, 1.194), (14.5, 1.142), (16, 1.116),
            (17.5, 1.103), (19, 1.068), (20.5, 1.116), (22, 1.086), (23.6, 1.055), (25, 1.047), (26.9, 1.094),
            (28.4, 1.081), (29.9, 0.999), (31.7, 0.973), (33.8, 0.973), (35.6, 0.995), (37.2, 1.012), (39, 0.99),
            (40.8, 0.973), (43.8, 0.973), (46.8, 0.973), (49.8, 0.973), (52.9, 0.973), (55.9, 0.977), (58, 0.99),
            (60.4, 1.007), (61.9, 0.99), (63.7, 0.982), (65.6, 0.973), (67.4, 0.982), (69.5, 1.025), (71, 1.049),
            (72.8, 1.042), (74.6, 1.007), (76.4, 0.982), (78.5, 0.973), (80, 0.977)]
R5C4_FIT = [(-80, 1.0), (-33, 1.0), (-30, 1.004), (-27, 1.02), (-24, 1.06), (-21, 1.11), (-18, 1.155), (-15, 1.18),
            (-12, 1.19), (-9, 1.18), (-6, 1.165), (-3, 1.15), (0, 1.145), (3, 1.15), (6, 1.165), (9, 1.18),
            (12, 1.19), (15, 1.18), (18, 1.155), (21, 1.11), (24, 1.06), (27, 1.02), (30, 1.004), (33, 1.0),
            (80, 1.0)]

R5C5_OBS = [(-80, 0.999), (-78.5, 0.973), (-76.4, 0.99), (-74.6, 0.982), (-72.5, 0.973), (-70.7, 1.055),
            (-68.9, 1.06), (-67, 1.029), (-65.3, 1.073), (-63.7, 1.077), (-61.9, 1.042), (-60.4, 0.973),
            (-58.6, 1.025), (-56.8, 1.064), (-55.3, 1.086), (-53.5, 1.042), (-51.4, 0.99), (-49.2, 0.973),
            (-47.4, 1.016), (-45.3, 1.027), (-43.5, 1.025), (-41.7, 1.007), (-39.9, 1.003), (-38, 1.022),
            (-36.3, 1.025), (-34.7, 1.051), (-33.5, 1.15), (-32, 1.32), (-29, 1.5), (-26, 1.32), (-24.8, 1.18),
            (-23.5, 1.116), (-21.1, 1.103), (-19.6, 1.142), (-18.1, 1.147), (-16.6, 1.134), (-15.1, 1.168),
            (-13.6, 1.183), (-12.1, 1.19), (-10.6, 1.179), (-9.1, 1.16), (-7.6, 1.125), (-6, 1.081), (-4.5, 1.103),
            (-3, 1.064), (-1.5, 1.116), (0, 1.081), (1.5, 1.055), (3, 1.103), (4.5, 1.155), (6, 1.138), (7.6, 1.077),
            (9.1, 1.086), (10.6, 1.129), (12.1, 1.125), (13.6, 1.077), (15.1, 1.047), (16.6, 1.042), (18.1, 1.038),
            (19.6, 1.06), (21.1, 1.073), (22.7, 1.055), (24.2, 1.086), (25.7, 1.088), (27.2, 1.073), (28.7, 0.986),
            (30.2, 1.007), (31.7, 0.973), (33.2, 1.016), (34.7, 1.081), (36.3, 1.051), (37.8, 0.99), (39.3, 0.995),
            (41.1, 1.007), (42.9, 1.02), (44.7, 1.042), (46.5, 1.068), (48.3, 1.086), (49.8, 1.06), (51.4, 1.02),
            (53.2, 0.999), (55, 1.007), (56.5, 1.025), (58, 1.007), (59.5, 0.999), (61, 1.033), (62.5, 1.116),
            (64, 1.073), (65.6, 1.038), (67, 1.042), (68.6, 1.051), (70, 1.064), (71.9, 1.064), (73.7, 1.051),
            (75.5, 1.029), (77.3, 1.007), (80, 0.995)]
R5C5_FIT = [(-80, 1.0), (-31, 1.0), (-28, 1.006), (-25, 1.03), (-22, 1.075), (-19, 1.13), (-16, 1.17), (-13, 1.188),
            (-11, 1.188), (-8, 1.175), (-5, 1.158), (-2, 1.148), (0, 1.145), (2, 1.148), (5, 1.158), (8, 1.175),
            (11, 1.188), (13, 1.188), (16, 1.17), (19, 1.13), (22, 1.075), (25, 1.03), (28, 1.006), (31, 1.0),
            (80, 1.0)]

# axis setup per panel: y domain, labelled y ticks, minor y step
X80, X120 = (-80, 80), (-120, 120)
X80_LAB, X120_LAB = [-50, 0, 50], [-100, -50, 0, 50, 100]

ROWS = [
    [dict(obs=R1C1_OBS, fit=R1C1_FIT, xd=X80, yd=(0.99, 1.111), yl=[1, 1.05, 1.1], ym=0.01),
     dict(obs=R1C2_OBS, fit=R1C2_FIT, xd=X80, yd=(0.89, 4.21), yl=[1, 2, 3, 4], ym=0.2),
     dict(obs=R1C3_OBS, fit=R1C3_FIT, xd=X80, yd=(0.948, 2.106), yl=[1, 1.5, 2], ym=0.1),
     dict(obs=R1C4_OBS, fit=R1C4_FIT, xd=X80, yd=(0.951, 1.755), yl=[1, 1.2, 1.4, 1.6], ym=0.05),
     dict(obs=R1C5_OBS, fit=R1C5_FIT, xd=X80, yd=(0.978, 1.352), yl=[1, 1.1, 1.2, 1.3], ym=0.02)],
    [dict(obs=R2C1_OBS, fit=R2C1_FIT, xd=X120, yd=(0.99, 1.179), yl=[1, 1.05, 1.1, 1.15], ym=0.01),
     dict(obs=R2C2_OBS, fit=R2C2_FIT, xd=X120, yd=(0.9, 4.19), yl=[1, 2, 3, 4], ym=0.2),
     dict(obs=R2C3_OBS, fit=R2C3_FIT, xd=X120, yd=(0.946, 2.098), yl=[1, 1.5, 2], ym=0.1),
     dict(obs=R2C4_OBS, fit=R2C4_FIT, xd=X120, yd=(0.99, 1.139), yl=[1, 1.05, 1.1], ym=0.01),
     dict(obs=R2C5_OBS, fit=R2C5_FIT, xd=X120, yd=(0.995, 1.098), yl=[1, 1.05], ym=0.01)],
    [dict(obs=R3C1_OBS, fit=R3C1_FIT, xd=X80, yd=(0.951, 1.361), yl=[1, 1.1, 1.2, 1.3], ym=0.02),
     dict(obs=R3C2_OBS, fit=R3C2_FIT, xd=X80, yd=(0.958, 2.953), yl=[1, 1.5, 2, 2.5], ym=0.1),
     dict(obs=R3C3_OBS, fit=R3C3_FIT, xd=X80, yd=(0.981, 1.702), yl=[1, 1.2, 1.4, 1.6], ym=0.05),
     dict(obs=R3C4_OBS, fit=R3C4_FIT, xd=X80, yd=(0.913, 3.905), yl=[1, 2, 3], ym=0.2),
     dict(obs=R3C5_OBS, fit=R3C5_FIT, xd=X80, yd=(0.899, 3.118), yl=[1, 1.5, 2, 2.5, 3], ym=0.1)],
    [None,
     dict(obs=R4C2_OBS, fit=R4C2_FIT, xd=X80, yd=(0.903, 2.616), yl=[1, 1.5, 2, 2.5], ym=0.1),
     dict(obs=R4C3_OBS, fit=R4C3_FIT, xd=X80, yd=(0.983, 1.5), yl=[1, 1.2, 1.4], ym=0.05),
     dict(obs=R4C4_OBS, fit=R4C4_FIT, xd=X80, yd=(0.98, 1.361), yl=[1, 1.1, 1.2, 1.3], ym=0.02),
     dict(obs=R4C5_OBS, fit=R4C5_FIT, xd=X80, yd=(0.98, 1.22), yl=[1, 1.05, 1.1, 1.15, 1.2], ym=0.01)],
    [None,
     dict(obs=R5C2_OBS, fit=R5C2_FIT, xd=X80, yd=(0.98, 1.321), yl=[1, 1.1, 1.2, 1.3], ym=0.02),
     dict(obs=R5C3_OBS, fit=R5C3_FIT, xd=X80, yd=(0.99, 1.14), yl=[1, 1.05, 1.1], ym=0.01),
     dict(obs=R5C4_OBS, fit=R5C4_FIT, xd=X80, yd=(0.981, 1.25), yl=[1, 1.1, 1.2], ym=0.02),
     dict(obs=R5C5_OBS, fit=R5C5_FIT, xd=X80, yd=(0.981, 1.25), yl=[1, 1.1, 1.2], ym=0.02)],
]

NAMES = {(0, 0): ["IRAS 07080+0605"], (1, 0): ["IRAS 07377−2523"], (2, 0): ["Hen 3−938", "(2008)"],
         (3, 1): ["LHA 115−N 82", "(2015)"], (4, 1): ["ARDB 54", "(2015)"]}
YTITLE_AT = {(0, 0), (1, 0), (2, 0), (3, 1), (4, 1)}
XTITLE_AT = {(2, 0), (4, 1), (4, 2), (4, 3), (4, 4)}


def steps(lo, hi, step):
    k0 = math.ceil(lo / step - 1e-9)
    k1 = math.floor(hi / step + 1e-9)
    return [round(k * step, 6) for k in range(k0, k1 + 1)]


def tick_axis(orient, vals, size):
    return alt.Axis(orient=orient, values=vals, labels=False, ticks=True, tickSize=size, offset=-size,
                    tickColor="#000", tickWidth=1, domain=False, grid=False, title=None)


def panel(p, r, c):
    xd, yd = p["xd"], p["yd"]
    xlab = X120_LAB if xd == X120 else X80_LAB
    xmin = steps(xd[0], xd[1], 10)
    ymin = steps(yd[0], yd[1], p["ym"])
    xs = alt.Scale(domain=list(xd), nice=False, zero=False)
    ys = alt.Scale(domain=list(yd), nice=False, zero=False)
    dobs = pd.DataFrame(p["obs"], columns=["v", "f"])
    dfit = pd.DataFrame(p["fit"], columns=["v", "f"])

    xt = XTITLE if (r, c) in XTITLE_AT else None
    yt = YTITLE if (r, c) in YTITLE_AT else None
    xaxis = alt.Axis(orient="bottom", values=xlab, ticks=False, tickSize=0, domain=False, grid=False,
                     labelPadding=7, labelFont=FONT, labelFontSize=15, labelColor=TXT, labelOverlap=False,
                     labelFlush=False, format="d", title=xt, titleFont=FONT, titleFontSize=15,
                     titleFontWeight="normal", titleColor=TXT, titlePadding=2, minExtent=20, maxExtent=20)
    yaxis = alt.Axis(orient="left", values=p["yl"], ticks=False, tickSize=0, domain=False, grid=False,
                     labelPadding=6, labelFont=FONT, labelFontSize=15, labelColor=TXT, labelOverlap=False,
                     labelFlush=False, format=".3~f", title=yt, titleFont=FONT, titleFontSize=15,
                     titleFontWeight="normal", titleColor=TXT, titlePadding=6, minExtent=55, maxExtent=55)

    layers = [
        alt.Chart(dobs).mark_line(color="#000", strokeWidth=1.1, clip=True).encode(
            x=alt.X("v:Q", scale=xs, axis=xaxis), y=alt.Y("f:Q", scale=ys, axis=yaxis)),
        alt.Chart(dfit).mark_line(color=RED, strokeWidth=1.1, clip=True).encode(
            x=alt.X("v:Q", scale=xs, axis=tick_axis("top", xlab, MAJ)),
            y=alt.Y("f:Q", scale=ys, axis=tick_axis("right", p["yl"], MAJ))),
        alt.Chart(dfit).mark_line(opacity=0, clip=True).encode(
            x=alt.X("v:Q", scale=xs, axis=tick_axis("bottom", xlab, MAJ)),
            y=alt.Y("f:Q", scale=ys, axis=tick_axis("left", p["yl"], MAJ))),
        alt.Chart(dfit).mark_line(opacity=0, clip=True).encode(
            x=alt.X("v:Q", scale=xs, axis=tick_axis("top", xmin, MIN)),
            y=alt.Y("f:Q", scale=ys, axis=tick_axis("right", ymin, MIN))),
        alt.Chart(dfit).mark_line(opacity=0, clip=True).encode(
            x=alt.X("v:Q", scale=xs, axis=tick_axis("bottom", xmin, MIN)),
            y=alt.Y("f:Q", scale=ys, axis=tick_axis("left", ymin, MIN))),
    ]
    for i, nm in enumerate(NAMES.get((r, c), [])):
        layers.append(alt.Chart(pd.DataFrame({"t": [nm]})).mark_text(
            align="left", baseline="middle", font=FONT, fontSize=15, color=TXT).encode(
            x=alt.value(10), y=alt.value(20 + 21 * i), text="t:N"))

    ch = alt.layer(*layers).resolve_axis(x="independent", y="independent")
    props = dict(width=W, height=H)
    if r == 0:
        props["title"] = alt.TitleParams(text=COL_TITLES[c], font=FONT, fontSize=15, fontWeight="normal",
                                         color=TXT, offset=6, anchor="middle")
    return ch.properties(**props)


def spacer():
    return alt.Chart(pd.DataFrame({"v": [0], "f": [1]})).mark_point(opacity=0).encode(
        x=alt.X("v:Q", axis=None), y=alt.Y("f:Q", axis=None)).properties(
        width=W, height=H, view=alt.ViewBackground(strokeOpacity=0))


cells = []
for r, row in enumerate(ROWS):
    for c, p in enumerate(row):
        cells.append(spacer() if p is None else panel(p, r, c))

chart = alt.concat(*cells, columns=5, spacing={"row": 29.5, "column": 40.5}, bounds="flush").properties(
    padding={"left": 0, "top": 0, "right": 0, "bottom": 0}, background="white"
).configure_view(stroke="#000", strokeWidth=1)

chart.save("out.html", embed_options={"renderer": "svg", "actions": False})
